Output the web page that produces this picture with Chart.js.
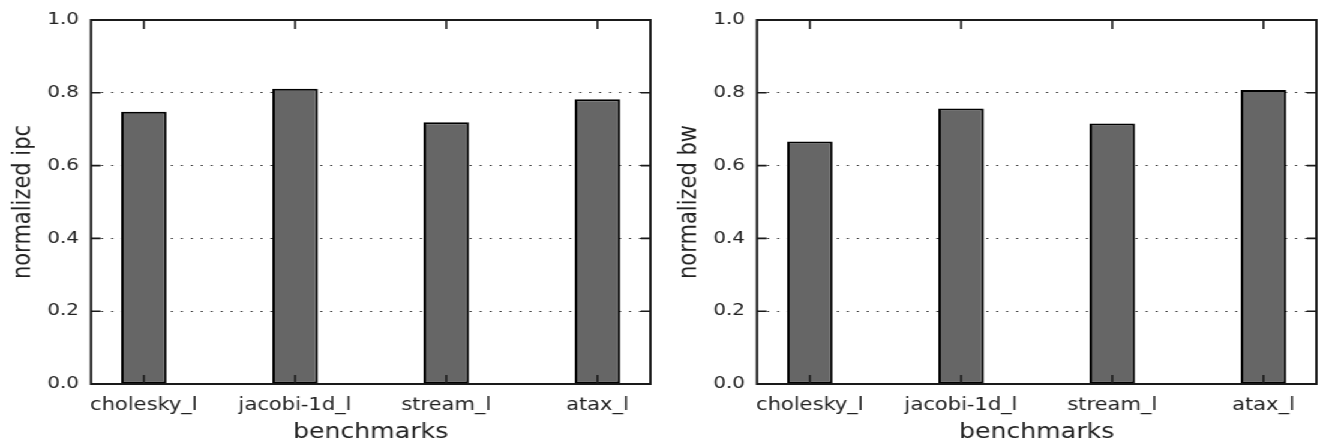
<!DOCTYPE html>
<html>
<head>
<meta charset="utf-8">
<title>normalized ipc / bw</title>
<script src="https://cdn.jsdelivr.net/npm/chart.js@4/dist/chart.umd.min.js"></script>
<style>
    html, body { margin: 0; padding: 0; background: #fff; overflow: hidden; }
    body { width: 1318px; height: 445px; position: relative; }
    /* panels are laid out at 1104px and stretched to the 1318px page */
    #figure {
        position: absolute; left: 0; top: 0;
        width: 1104px; height: 445px;
        transform: scaleX(1.2); transform-origin: 0 0;
    }
    .panel { position: absolute; top: 0; width: 549px; height: 445px; }
    .panel canvas { display: block; }
</style>
</head>
<body>
<div id="figure">
    <div class="panel" style="left:0px"><canvas id="ipcChart" width="549" height="445"></canvas></div>
    <div class="panel" style="left:555px"><canvas id="bwChart" width="549" height="445"></canvas></div>
</div>
<script>
const benchmarks = ['cholesky_l', 'jacobi-1d_l', 'stream_l', 'atax_l'];
const ipcValues = [0.748, 0.811, 0.719, 0.782];
const bwValues = [0.666, 0.757, 0.716, 0.808];
const yTickValues = [0, 0.2, 0.4, 0.6, 0.8, 1.0];

document.addEventListener('DOMContentLoaded', () => {
    Chart.defaults.font.family = "'DejaVu Sans', sans-serif";
    Chart.defaults.color = '#222';

    // Box around the plot area plus inward tick marks on all four sides
    const frameTicks = {
        id: 'frameTicks',
        afterDraw(chart) {
            const { ctx, chartArea: a, scales: { x, y } } = chart;
            ctx.save();
            ctx.strokeStyle = '#1a1a1a';
            ctx.lineWidth = 1.6;
            ctx.beginPath();
            x.ticks.forEach(t => {
                const px = x.getPixelForValue(t.value);
                ctx.moveTo(px, a.bottom); ctx.lineTo(px, a.bottom - 9);
                ctx.moveTo(px, a.top); ctx.lineTo(px, a.top + 9);
            });
            y.ticks.forEach(t => {
                const py = y.getPixelForValue(t.value);
                ctx.moveTo(a.left, py); ctx.lineTo(a.left + 8, py);
                ctx.moveTo(a.right, py); ctx.lineTo(a.right - 8, py);
            });
            ctx.stroke();
            ctx.lineWidth = 2;
            ctx.strokeRect(a.left, a.top, a.right - a.left, a.bottom - a.top);
            ctx.restore();
        }
    };

    const makeChart = (canvasId, values, yTitle) => new Chart(document.getElementById(canvasId), {
        type: 'bar',
        data: {
            datasets: [{
                data: values.map((v, i) => ({ x: i, y: v })),
                backgroundColor: '#666666',
                borderColor: '#000000',
                borderWidth: 2,
                borderSkipped: false,
                categoryPercentage: 1.0,
                barPercentage: 0.3
            }]
        },
        options: {
            responsive: false,
            animation: false,
            layout: { padding: { top: 20, right: 7, left: 0, bottom: 0 } },
            plugins: {
                legend: { display: false },
                tooltip: { enabled: false }
            },
            scales: {
                x: {
                    type: 'linear',
                    offset: false,
                    min: -0.35,
                    max: benchmarks.length - 1 + 0.35,
                    afterBuildTicks: (scale) => {
                        scale.ticks = benchmarks.map((_, i) => ({ value: i }));
                    },
                    afterFit: (scale) => { scale.height = 61; },
                    grid: { display: false, drawTicks: false, offset: false },
                    border: { display: false },
                    ticks: {
                        padding: 11,
                        maxRotation: 0,
                        autoSkip: false,
                        font: { size: 17.5 },
                        callback: (value) => benchmarks[value]
                    },
                    title: {
                        display: true,
                        text: 'benchmarks',
                        font: { size: 21 },
                        padding: { top: 0, bottom: 0 }
                    }
                },
                y: {
                    min: 0,
                    max: 1,
                    z: 1,
                    afterBuildTicks: (scale) => {
                        scale.ticks = yTickValues.map(v => ({ value: v }));
                    },
                    afterFit: (scale) => { scale.width = 75.8; },
                    grid: {
                        drawTicks: false,
                        lineWidth: 1,
                        color: (ctx) => (ctx.tick && ctx.tick.value > 0 && ctx.tick.value < 1)
                            ? 'rgba(0, 0, 0, 0.8)' : 'rgba(0, 0, 0, 0)'
                    },
                    border: { display: false, dash: [1.7, 6.6] },
                    ticks: {
                        padding: 10,
                        font: { size: 16.5 },
                        callback: (value) => value.toFixed(1)
                    },
                    title: {
                        display: true,
                        text: yTitle,
                        font: { size: 21 },
                        padding: { top: 7, bottom: 0 }
                    }
                }
            }
        },
        plugins: [frameTicks]
    });

    makeChart('ipcChart', ipcValues, 'normalized ipc');
    makeChart('bwChart', bwValues, 'normalized bw');
});
</script>
</body>
</html>
